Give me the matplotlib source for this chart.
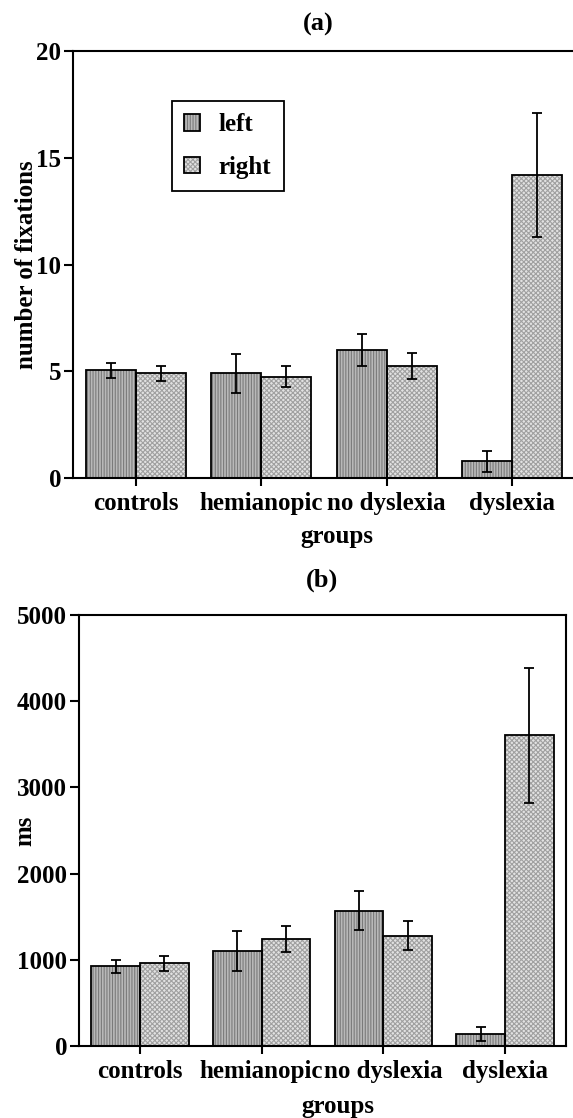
import numpy as np
import matplotlib
matplotlib.use("Agg")
import matplotlib.pyplot as plt
from matplotlib.legend_handler import HandlerTuple

groups = ["controls", "hemianopic", "no dyslexia", "dyslexia"]

# (a) number of fixations
fix_left = [5.05, 4.9, 6.0, 0.78]
fix_left_err = [0.35, 0.9, 0.75, 0.5]
fix_right = [4.9, 4.75, 5.25, 14.2]
fix_right_err = [0.35, 0.5, 0.6, 2.9]

# (b) time in ms
ms_left = [925, 1100, 1570, 140]
ms_left_err = [75, 235, 225, 85]
ms_right = [960, 1245, 1280, 3605]
ms_right_err = [85, 150, 170, 785]

plt.rcParams['font.family'] = ['Liberation Serif', 'DejaVu Serif']
plt.rcParams['font.weight'] = 'bold'
plt.rcParams['axes.labelweight'] = 'bold'
plt.rcParams['font.size'] = 18
plt.rcParams['hatch.linewidth'] = 0.8

left_face, left_hatch = '#b9b9b9', '#7a7a7a'
right_face, right_hatch = '#e2e2e2', '#a0a0a0'
bw = 0.4


def panel(ax, left, left_err, right, right_err, ymax, yticks):
    x = np.arange(len(groups))
    # hatched fill first, black outline on top (hatch colour follows edgecolor)
    fl = ax.bar(x - bw/2, left, bw, color=left_face, edgecolor=left_hatch,
                hatch='||||||', linewidth=0, zorder=2)
    ol = ax.bar(x - bw/2, left, bw, fill=False, edgecolor='black',
                linewidth=1.3, zorder=3)
    fr = ax.bar(x + bw/2, right, bw, color=right_face, edgecolor=right_hatch,
                hatch='xxxxxxx', linewidth=0, zorder=2)
    orr = ax.bar(x + bw/2, right, bw, fill=False, edgecolor='black',
                 linewidth=1.3, zorder=3)
    ax.errorbar(x - bw/2, left, yerr=left_err, fmt='none', ecolor='black',
                elinewidth=1.3, capsize=3.6, capthick=1.3, zorder=4)
    ax.errorbar(x + bw/2, right, yerr=right_err, fmt='none', ecolor='black',
                elinewidth=1.3, capsize=3.6, capthick=1.3, zorder=4)
    ax.set_xlim(-0.5, 3.5)
    ax.set_ylim(0, ymax)
    ax.set_yticks(yticks)
    ax.set_xticks(x)
    ax.set_xticklabels(groups)
    ax.tick_params(axis='y', direction='out', length=6.5, width=1.5, pad=2)
    ax.tick_params(axis='x', direction='out', length=6, width=1.5, pad=4)
    for s in ax.spines.values():
        s.set_linewidth(1.5)
    return (fl[0], ol[0]), (fr[0], orr[0])


fig = plt.figure(figsize=(5.73, 11.18), dpi=100)

ax1 = fig.add_axes([73/573, 1 - 478/1118, 502/573, 427/1118])
hl, hr = panel(ax1, fix_left, fix_left_err, fix_right, fix_right_err,
               20, [0, 5, 10, 15, 20])
ax1.set_ylabel("number of fixations", va='center')
ax1.yaxis.set_label_coords(-0.092, 0.5)
ax1.set_xlabel("groups", va='center')
ax1.xaxis.set_label_coords(0.526, -0.138)
ax1.text(0.488, 1.063, "(a)", transform=ax1.transAxes, ha='center',
         va='center', fontsize=19)
leg = ax1.legend([hl, hr], ["left", "right"],
                 handler_map={tuple: HandlerTuple(ndivide=1)},
                 loc='upper left', bbox_to_anchor=(0.197, 0.883),
                 fancybox=False, framealpha=1, edgecolor='black',
                 handlelength=0.64, handleheight=0.64, handletextpad=0.72,
                 labelspacing=0.78, borderpad=0.5, borderaxespad=0)
leg.get_frame().set_linewidth(1.3)

ax2 = fig.add_axes([79/573, 1 - 1046/1118, 487/573, 431/1118])
panel(ax2, ms_left, ms_left_err, ms_right, ms_right_err,
      5000, [0, 1000, 2000, 3000, 4000, 5000])
ax2.set_ylabel("ms", va='center')
ax2.yaxis.set_label_coords(-0.111, 0.5)
ax2.set_xlabel("groups", va='center')
ax2.xaxis.set_label_coords(0.532, -0.1415)
ax2.text(0.499, 1.081, "(b)", transform=ax2.transAxes, ha='center',
         va='center', fontsize=19)

fig.savefig("out.png", dpi=100)
